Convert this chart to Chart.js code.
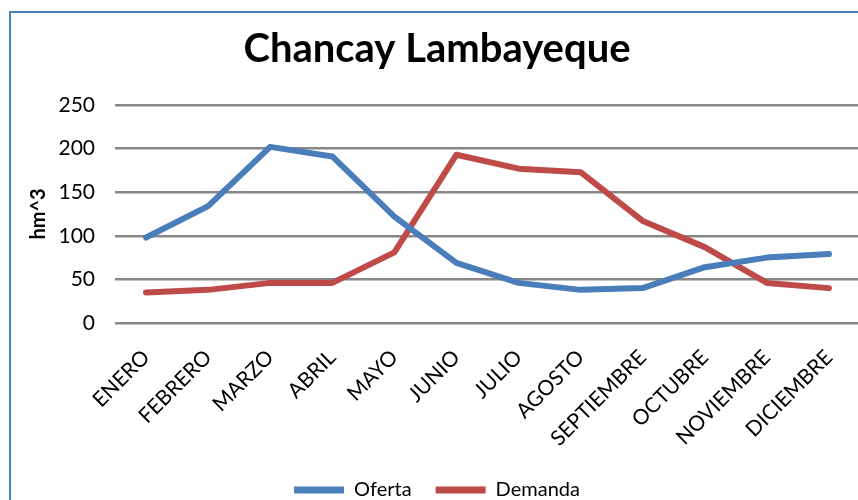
<!DOCTYPE html>
<html>
<head>
<meta charset="utf-8">
<script src="https://cdn.jsdelivr.net/npm/chart.js@4/dist/chart.umd.min.js"></script>
<style>
  html, body { margin: 0; padding: 0; background: #fff; }
  body { width: 858px; height: 500px; overflow: hidden; position: relative; }
  #frame {
    position: absolute; left: 9px; top: 11px; width: 900px; height: 520px;
    border-left: 2px solid #4F81BD; border-top: 2px solid #4F81BD;
    pointer-events: none;
  }
  #wrap { position: absolute; left: 0; top: 0; }
</style>
</head>
<body>
<div id="wrap"><canvas id="chart" width="874" height="510"></canvas></div>
<div id="frame"></div>
<script>
// meses
const months = ["ENERO", "FEBRERO", "MARZO", "ABRIL", "MAYO", "JUNIO", "JULIO",
  "AGOSTO", "SEPTIEMBRE", "OCTUBRE", "NOVIEMBRE", "DICIEMBRE"];

// valores (hm^3)
const oferta = [98, 134, 202, 191, 122, 69, 46, 38, 40, 64, 75, 79];
const demanda = [35, 38, 46, 46, 81, 193, 177, 173, 117, 87, 46, 40];

const yTicks = [0, 50, 100, 150, 200, 250];

const FONT = "Lato, 'Open Sans', sans-serif";

const ctx = document.getElementById("chart");

new Chart(ctx, {
  type: "line",
  data: {
    labels: months,
    datasets: [
      {
        label: "Oferta",
        data: oferta,
        borderColor: "#4A7EBB",
        backgroundColor: "#4A7EBB",
        borderWidth: 6,
        pointRadius: 0,
        tension: 0,
        borderCapStyle: "round",
        borderJoinStyle: "round",
      },
      {
        label: "Demanda",
        data: demanda,
        borderColor: "#BE4B48",
        backgroundColor: "#BE4B48",
        borderWidth: 6,
        pointRadius: 0,
        tension: 0,
        borderCapStyle: "round",
        borderJoinStyle: "round",
      },
    ],
  },
  options: {
    responsive: false,
    animation: false,
    layout: { padding: { left: 14, right: 14, top: 0, bottom: 0 } },
    plugins: {
      title: {
        display: true,
        text: "Chancay Lambayeque",
        color: "#000",
        font: { family: FONT, size: 40, weight: "bold" },
        padding: { top: 25, bottom: 32 },
      },
      legend: {
        position: "bottom",
        labels: {
          color: "#000",
          font: { family: FONT, size: 20 },
          boxWidth: 50,
          boxHeight: 7,
          padding: 24,
          generateLabels: (chart) => {
            const items = Chart.defaults.plugins.legend.labels.generateLabels(chart);
            items.forEach((it) => {
              it.lineWidth = 0;
              it.fillStyle = it.strokeStyle;
            });
            return items;
          },
        },
      },
      tooltip: { enabled: false },
    },
    scales: {
      x: {
        offset: true,
        grid: { display: false, drawTicks: false },
        border: { display: false },
        ticks: {
          color: "#000",
          font: { family: FONT, size: 21 },
          maxRotation: 45,
          minRotation: 45,
          padding: 22,
          autoSkip: false,
        },
        afterFit: (scale) => { scale.height = 133; },
      },
      y: {
        min: 0,
        max: 250,
        afterBuildTicks: (scale) => {
          scale.ticks = yTicks.map((v) => ({ value: v }));
        },
        grid: { color: "#878787", lineWidth: 2.5, drawTicks: false },
        border: { display: false },
        ticks: {
          color: "#000",
          font: { family: FONT, size: 21 },
          padding: 20,
        },
        title: {
          display: true,
          text: "hm^3",
          color: "#000",
          font: { family: FONT, size: 20, weight: "bold" },
          padding: { top: 13, bottom: 0 },
        },
        afterFit: (scale) => { scale.width = 101; },
      },
    },
  },
});
</script>
</body>
</html>
